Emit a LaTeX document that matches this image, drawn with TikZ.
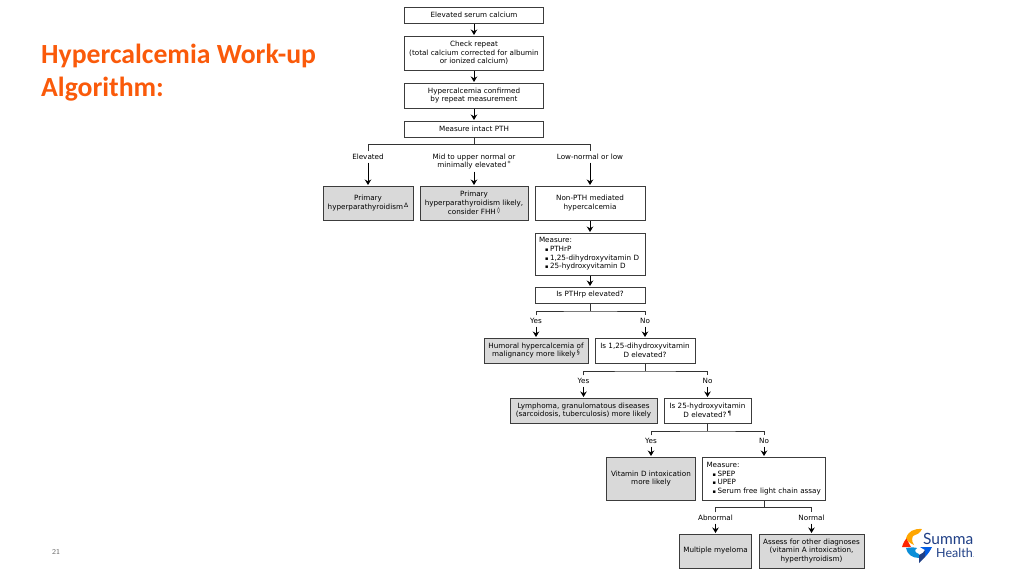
\documentclass[tikz,border=0pt]{standalone}
\usepackage{fontspec}
\setmainfont{DejaVu Sans}
\newfontfamily\titlefont{Carlito}
\newfontfamily\logofont{Lato}
\usetikzlibrary{arrows.meta, positioning}
\definecolor{SummaOrange}{HTML}{FA5A0A}
\definecolor{SummaNavy}{HTML}{1F3F86}
\definecolor{BoxGrey}{HTML}{D9D9D9}
\definecolor{BoxLine}{HTML}{3C3C3C}
\newcommand{\bulletline}[1]{\hspace*{6pt}\rlap{\fontsize{5}{5}\selectfont ▪}\hspace*{5pt}#1}
\newcommand{\supmark}[1]{\,\raisebox{2pt}{\fontsize{6}{6}\selectfont #1}}

\begin{document}
\begin{tikzpicture}[x=1pt, y=-1pt, shorten >=0.5pt, on grid, >={Stealth[length=5.5pt, width=6.5pt]},
    wh/.style 2 args={minimum width=#1pt, minimum height=#2pt},
    box/.style={rectangle, draw=BoxLine, line width=1pt, inner sep=1pt, align=center, text=black, font=\fontsize{7.2}{8.7}\selectfont},
    greybox/.style={box, fill=BoxGrey},
    listbox/.style={box, align=left, inner xsep=4pt, inner ysep=2pt},
    labtwo/.style={inner sep=2pt, align=center, text=black, font=\fontsize{7.2}{8.7}\selectfont},
    lab/.style={labtwo, text height=5.5pt, text depth=1.5pt},
    link/.style={line width=0.9pt, black},
    tick/.style={line width=0.9pt, black!80, shorten >=0pt}]

    \useasboundingbox (0,0) rectangle (1024,576);

    % slide title and page number
    \node[anchor=north west, inner sep=0pt, align=left, text=SummaOrange, font=\titlefont\bfseries\fontsize{27.7}{33}\selectfont] (Title) at (41,44) {Hypercalcemia Work-up\\Algorithm:};
    \node[text=black!60, font=\fontsize{7.5}{9}\selectfont\sffamily] (Page) at (56,552) {21};

    % first column
    \node[box, wh={139}{16}] (Elev) at (474,15) {Elevated serum calcium};
    \node[box, wh={139}{34}, below=38pt of Elev] (Check) {Check repeat\\(total calcium corrected for albumin\\or ionized calcium)};
    \node[box, wh={139}{25}, below=42.5pt of Check] (Conf) {Hypercalcemia confirmed\\by repeat measurement};
    \node[box, wh={139}{16}, below=33.5pt of Conf] (PTH) {Measure intact PTH};
    \coordinate[below=15.5pt of PTH] (Br1);

    \node[lab, below left=28pt and 106pt of PTH] (LabElev) {Elevated};
    \node[labtwo, below=32.5pt of PTH] (LabMid) {Mid to upper normal or\\minimally elevated\supmark{*}};
    \node[lab, below right=28pt and 116pt of PTH] (LabLow) {Low-normal or low};

    \node[greybox, wh={90}{34}, below=46pt of LabElev] (Prim) {Primary\\hyperparathyroidism\supmark{Δ}};
    \node[greybox, wh={108}{34}, below=41.5pt of LabMid] (Likely) {Primary\\hyperparathyroidism likely,\\consider FHH\supmark{◊}};
    \node[box, wh={110}{34}, below=46pt of LabLow] (NonPTH) {Non-PTH mediated\\hypercalcemia};

    \node[listbox, text width=102pt, wh={110}{42}, below=51pt of NonPTH] (MeasA) {Measure:\\\bulletline{PTHrP}\\\bulletline{1,25-dihydroxyvitamin D}\\\bulletline{25-hydroxyvitamin D}};
    \node[box, wh={110}{16}, below=41pt of MeasA] (PTHrp) {Is PTHrp elevated?};
    \coordinate[below=16pt of PTHrp] (Br2);

    \node[lab, below left=26pt and 54pt of PTHrp] (LabYesA) {Yes};
    \node[lab, below right=26pt and 55pt of PTHrp] (LabNoA) {No};
    \node[greybox, wh={104}{25}, below=29.5pt of LabYesA] (Humoral) {Humoral hypercalcemia of\\malignancy more likely\supmark{§}};
    \node[box, wh={100}{25}, below=29.5pt of LabNoA] (Dihyd) {Is 1,25-dihydroxyvitamin\\D elevated?};
    \coordinate[below=20.5pt of Dihyd] (Br3);

    \node[lab, below left=30.5pt and 61.5pt of Dihyd] (LabYesB) {Yes};
    \node[lab, below right=30.5pt and 62.5pt of Dihyd] (LabNoB) {No};
    \node[greybox, wh={147}{25}, below=29.5pt of LabYesB] (Lymph) {Lymphoma, granulomatous diseases\\(sarcoidosis, tuberculosis) more likely};
    \node[box, wh={87}{25}, below=29.5pt of LabNoB] (Hydro) {Is 25-hydroxyvitamin\\D elevated?\supmark{¶}};
    \coordinate[below=20.5pt of Hydro] (Br4);

    \node[lab, below left=30.5pt and 56.5pt of Hydro] (LabYesC) {Yes};
    \node[lab, below right=30.5pt and 56.5pt of Hydro] (LabNoC) {No};
    \node[greybox, wh={89}{43}, below=37.5pt of LabYesC] (VitD) {Vitamin D intoxication\\more likely};
    \node[listbox, text width=115pt, wh={123}{43}, below=37.5pt of LabNoC] (MeasB) {Measure:\\\bulletline{SPEP}\\\bulletline{UPEP}\\\bulletline{Serum free light chain assay}};
    \coordinate[below=28.5pt of MeasB] (Br5);

    \node[lab, below left=39.5pt and 48.5pt of MeasB] (LabAbn) {Abnormal};
    \node[lab, below right=39.5pt and 47.5pt of MeasB] (LabNorm) {Normal};
    \node[greybox, wh={72}{34}, below=33pt of LabAbn] (Myel) {Multiple myeloma};
    \node[greybox, wh={105}{34}, below=33pt of LabNorm] (Assess) {Assess for other diagnoses\\(vitamin A intoxication,\\hyperthyroidism)};

    % arrows
    \path[->, link]
    (Elev) edge (Check)
    (Check) edge (Conf)
    (Conf) edge (PTH)
    (LabElev) edge (Prim)
    (LabMid) edge (Likely)
    (LabLow) edge (NonPTH)
    (NonPTH) edge (MeasA)
    (MeasA) edge (PTHrp)
    (LabYesA) edge (Humoral)
    (LabNoA) edge (Dihyd)
    (LabYesB) edge (Lymph)
    (LabNoB) edge (Hydro)
    (LabYesC) edge (VitD)
    (LabNoC) edge (MeasB)
    (LabAbn) edge (Myel)
    (LabNorm) edge (Assess)
    ;

    % branch lines
    \draw[tick] (LabElev) |- (Br1) -| (LabLow);
    \draw[tick] (LabYesA) |- (Br2) -| (LabNoA);
    \draw[tick] (LabYesB) |- (Br3) -| (LabNoB);
    \draw[tick] (LabYesC) |- (Br4) -| (LabNoC);
    \draw[tick] (LabAbn) |- (Br5) -| (LabNorm);
    \draw[tick] (PTH) -- (Br1);
    \draw[tick] (PTHrp) -- (Br2);
    \draw[tick] (Dihyd) -- (Br3);
    \draw[tick] (Hydro) -- (Br4);
    \draw[tick] (MeasB) -- (Br5);

    % logo
    \fill[fill=orange!70!yellow] (906,538.5) .. controls (908,531) and (914,528.5) .. (922,529) .. controls (920,533) and (917,535) .. (914,535.5) .. controls (912,536) and (911,541) .. (914,545) .. controls (909,543) and (907,540) .. (906,538.5) -- cycle;
    \fill[fill=red!70!orange] (902,547) .. controls (903,543) and (905,540) .. (906.5,538.5) .. controls (908,542) and (910,545) .. (911,547) -- cycle;
    \fill[fill=cyan!75!blue] (906,548) .. controls (910,547.5) and (914,547) .. (917,548) .. controls (914,550) and (915,553) .. (919,554) -- (919,558) .. controls (912,558) and (907,554) .. (906,548) -- cycle;
    \fill[fill=blue!60!cyan!90!black] (920,547) -- (932,547) .. controls (930,551) and (928,554) .. (925,557) -- (925,550) -- cycle;
    \fill[fill=SummaNavy] (919,555) .. controls (922,554) and (924,552) .. (925,550) -- (925,557) -- (919,563) -- cycle;
    \node[anchor=base west, inner sep=0pt, text=SummaNavy, font=\logofont\fontsize{15.5}{16}\selectfont] (Summa) at (923,544) {Summa};
    \node[anchor=base west, inner sep=0pt, text=SummaNavy, font=\logofont\fontsize{12.5}{14}\selectfont] (Health) at (936,557) {Health{\fontsize{5}{5}\selectfont .}};

\end{tikzpicture}
\end{document}
